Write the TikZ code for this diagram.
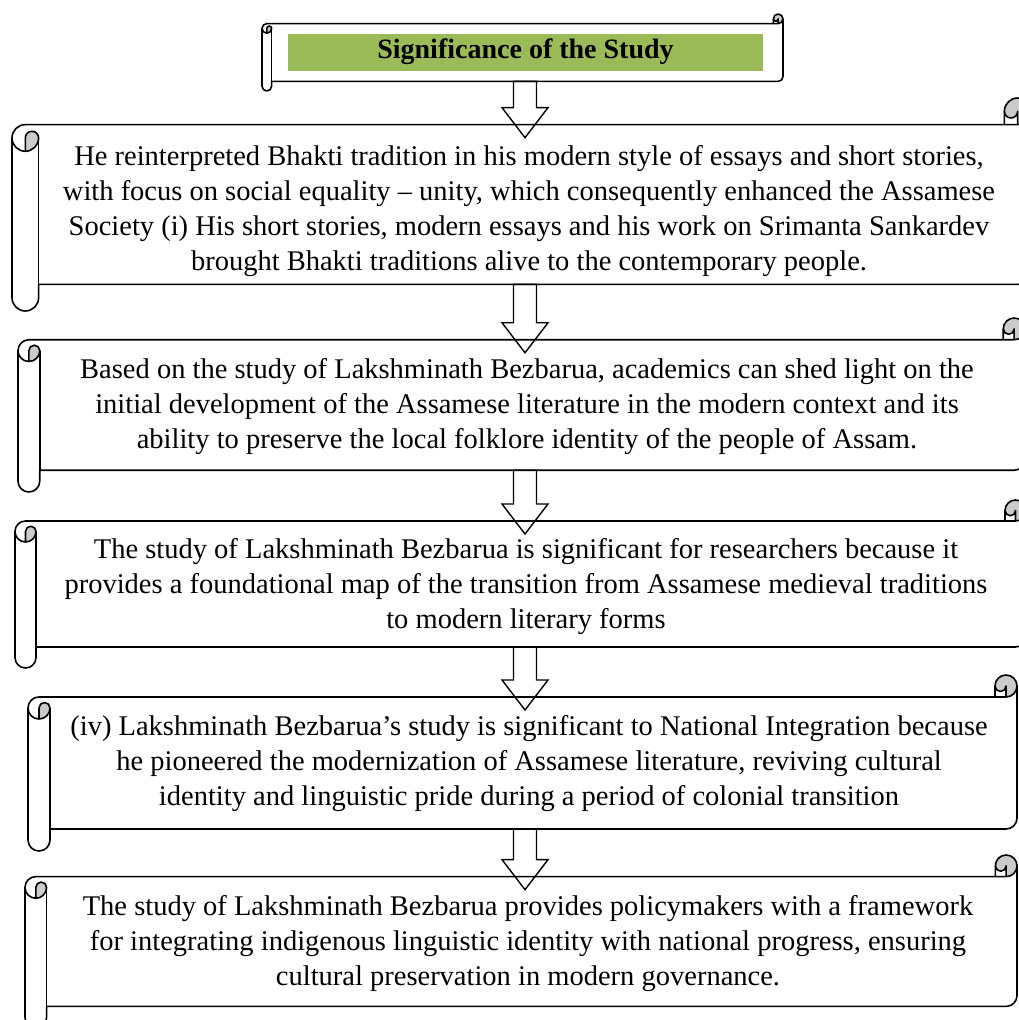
\documentclass[tikz,border=0pt]{standalone}
\usepackage{fontspec}
\setmainfont{Liberation Serif}
\usetikzlibrary{calc}

\definecolor{bandgreen}{RGB}{155,187,89}
\definecolor{curlgray}{RGB}{203,203,203}
\def\arrowx{525}

% horizontal scroll: name, left, top, right, bottom (screen px)
\newcommand\hscroll[5]{%
  \pgfmathsetmacro\sxL{#2}\pgfmathsetmacro\syT{#3}%
  \pgfmathsetmacro\sxR{#4}\pgfmathsetmacro\syB{#5}%
  \pgfmathsetmacro\rc{0.125*min(#4-#2,#5-#3)}%
  \pgfmathsetmacro\rh{\rc/2}\pgfmathsetmacro\rq{\rc/4}%
  \pgfmathsetmacro\ya{\syT+\rh}\pgfmathsetmacro\yb{\syT+\rc}%
  \pgfmathsetmacro\yc{\syT+1.5*\rc}\pgfmathsetmacro\yd{\syT+2*\rc}%
  \pgfmathsetmacro\ye{\syB-1.5*\rc}\pgfmathsetmacro\yf{\syB-\rc}%
  \pgfmathsetmacro\yg{\syB-\rh}%
  \pgfmathsetmacro\xa{\sxL+\rh}\pgfmathsetmacro\xb{\sxL+\rc}%
  \pgfmathsetmacro\xc{\sxR-\rc}\pgfmathsetmacro\xd{\sxR-\rh}%
  \def\scrollpath{(\sxL,\yc) arc[start angle=180, end angle=270, radius=\rh]
    -- (\xc,\yb) -- (\xc,\ya) arc[start angle=180, end angle=360, radius=\rh]
    -- (\sxR,\ye) arc[start angle=0, end angle=90, radius=\rh]
    -- (\xb,\yf) -- (\xb,\yg) arc[start angle=0, end angle=180, radius=\rh] -- cycle}%
  \fill[white] \scrollpath;
  % rolled ends
  \fill[curlgray] (\xa,\yd) arc[start angle=90, end angle=0, radius=\rh]
    arc[start angle=0, end angle=-180, radius=\rq] -- cycle;
  \fill[curlgray] (\xd,\yb) arc[start angle=90, end angle=-180, radius=\rh]
    arc[start angle=180, end angle=0, radius=\rq] -- cycle;
  \draw[scrollline] \scrollpath;
  \draw[scrollline] (\xc,\yb) -- (\xd,\yb) arc[start angle=90, end angle=0, radius=\rh];
  \draw[scrollline] (\xd,\yb) -- (\xd,\ya) arc[start angle=0, end angle=180, radius=\rq];
  \draw[scrollline] (\xa,\yd) -- (\xa,\yc) arc[start angle=180, end angle=360, radius=\rq]
    arc[start angle=0, end angle=180, radius=\rh];
  \draw[scrollline] (\xb,\yc) -- (\xb,\yf);
  \coordinate (#1-top) at (\arrowx,\yb);
  \coordinate (#1-bot) at (\arrowx,\yf);
}

% block arrow from the bottom of one scroll into the next
\newcommand\blockarrow[2]{%
  \draw[blockarr] ($(#1)+(-11.5,0)$) -- ($(#1)+(11.5,0)$) -- ($(#2)+(11.5,-17)$)
    -- ($(#2)+(23,-17)$) -- ($(#2)+(0,13)$) -- ($(#2)+(-23,-17)$)
    -- ($(#2)+(-11.5,-17)$) -- cycle;}

\begin{document}
\begin{tikzpicture}[x=1pt, y=1pt, yscale=-1, font=\fontsize{28.5}{35}\selectfont]
  \tikzset{scrollline/.style={draw=black, line width=1.6pt, line join=round},
    blockarr/.style={draw=black, line width=1.4pt, line join=miter},
    txt/.style={align=center, inner sep=0pt}}
  \fill[white] (0,0) rectangle (1018,1020);
  \useasboundingbox (0,0) rectangle (1018,1020);

  \hscroll{title}{262}{14}{783}{91}
  \hscroll{s1}{12}{98}{1031}{311}
  \hscroll{s2}{18}{318}{1025}{492}
  \hscroll{s3}{15}{500}{1026}{668}
  \hscroll{s4}{28}{675}{1017}{851}
  \hscroll{s5}{25}{855}{1017}{1028}

  \node[txt, fill=bandgreen, minimum width=475pt, minimum height=37pt,
    font=\fontsize{28}{34}\selectfont\bfseries] (title-text) at (525.5,52) {Significance of the Study};

  \node[txt] (s1-text) at (529,211) {He reinterpreted Bhakti tradition in his modern style of essays and short stories,\\
    with focus on social equality – unity, which consequently enhanced the Assamese\\
    Society (i) His short stories, modern essays and his work on Srimanta Sankardev\\
    brought Bhakti traditions alive to the contemporary people.};
  \node[txt] (s2-text) at (527,407) {Based on the study of Lakshminath Bezbarua, academics can shed light on the\\
    initial development of the Assamese literature in the modern context and its\\
    ability to preserve the local folklore identity of the people of Assam.};
  \node[txt] (s3-text) at (526,587) {The study of Lakshminath Bezbarua is significant for researchers because it\\
    provides a foundational map of the transition from Assamese medieval traditions\\
    to modern literary forms};
  \node[txt] (s4-text) at (529,764) {(iv) Lakshminath Bezbarua’s study is significant to National Integration because\\
    he pioneered the modernization of Assamese literature, reviving cultural\\
    identity and linguistic pride during a period of colonial transition};
  \node[txt] (s5-text) at (528,944) {The study of Lakshminath Bezbarua provides policymakers with a framework\\
    for integrating indigenous linguistic identity with national progress, ensuring\\
    cultural preservation in modern governance.};

  \blockarrow{title-bot}{s1-top}
  \blockarrow{s1-bot}{s2-top}
  \blockarrow{s2-bot}{s3-top}
  \blockarrow{s3-bot}{s4-top}
  \blockarrow{s4-bot}{s5-top}
\end{tikzpicture}
\end{document}
